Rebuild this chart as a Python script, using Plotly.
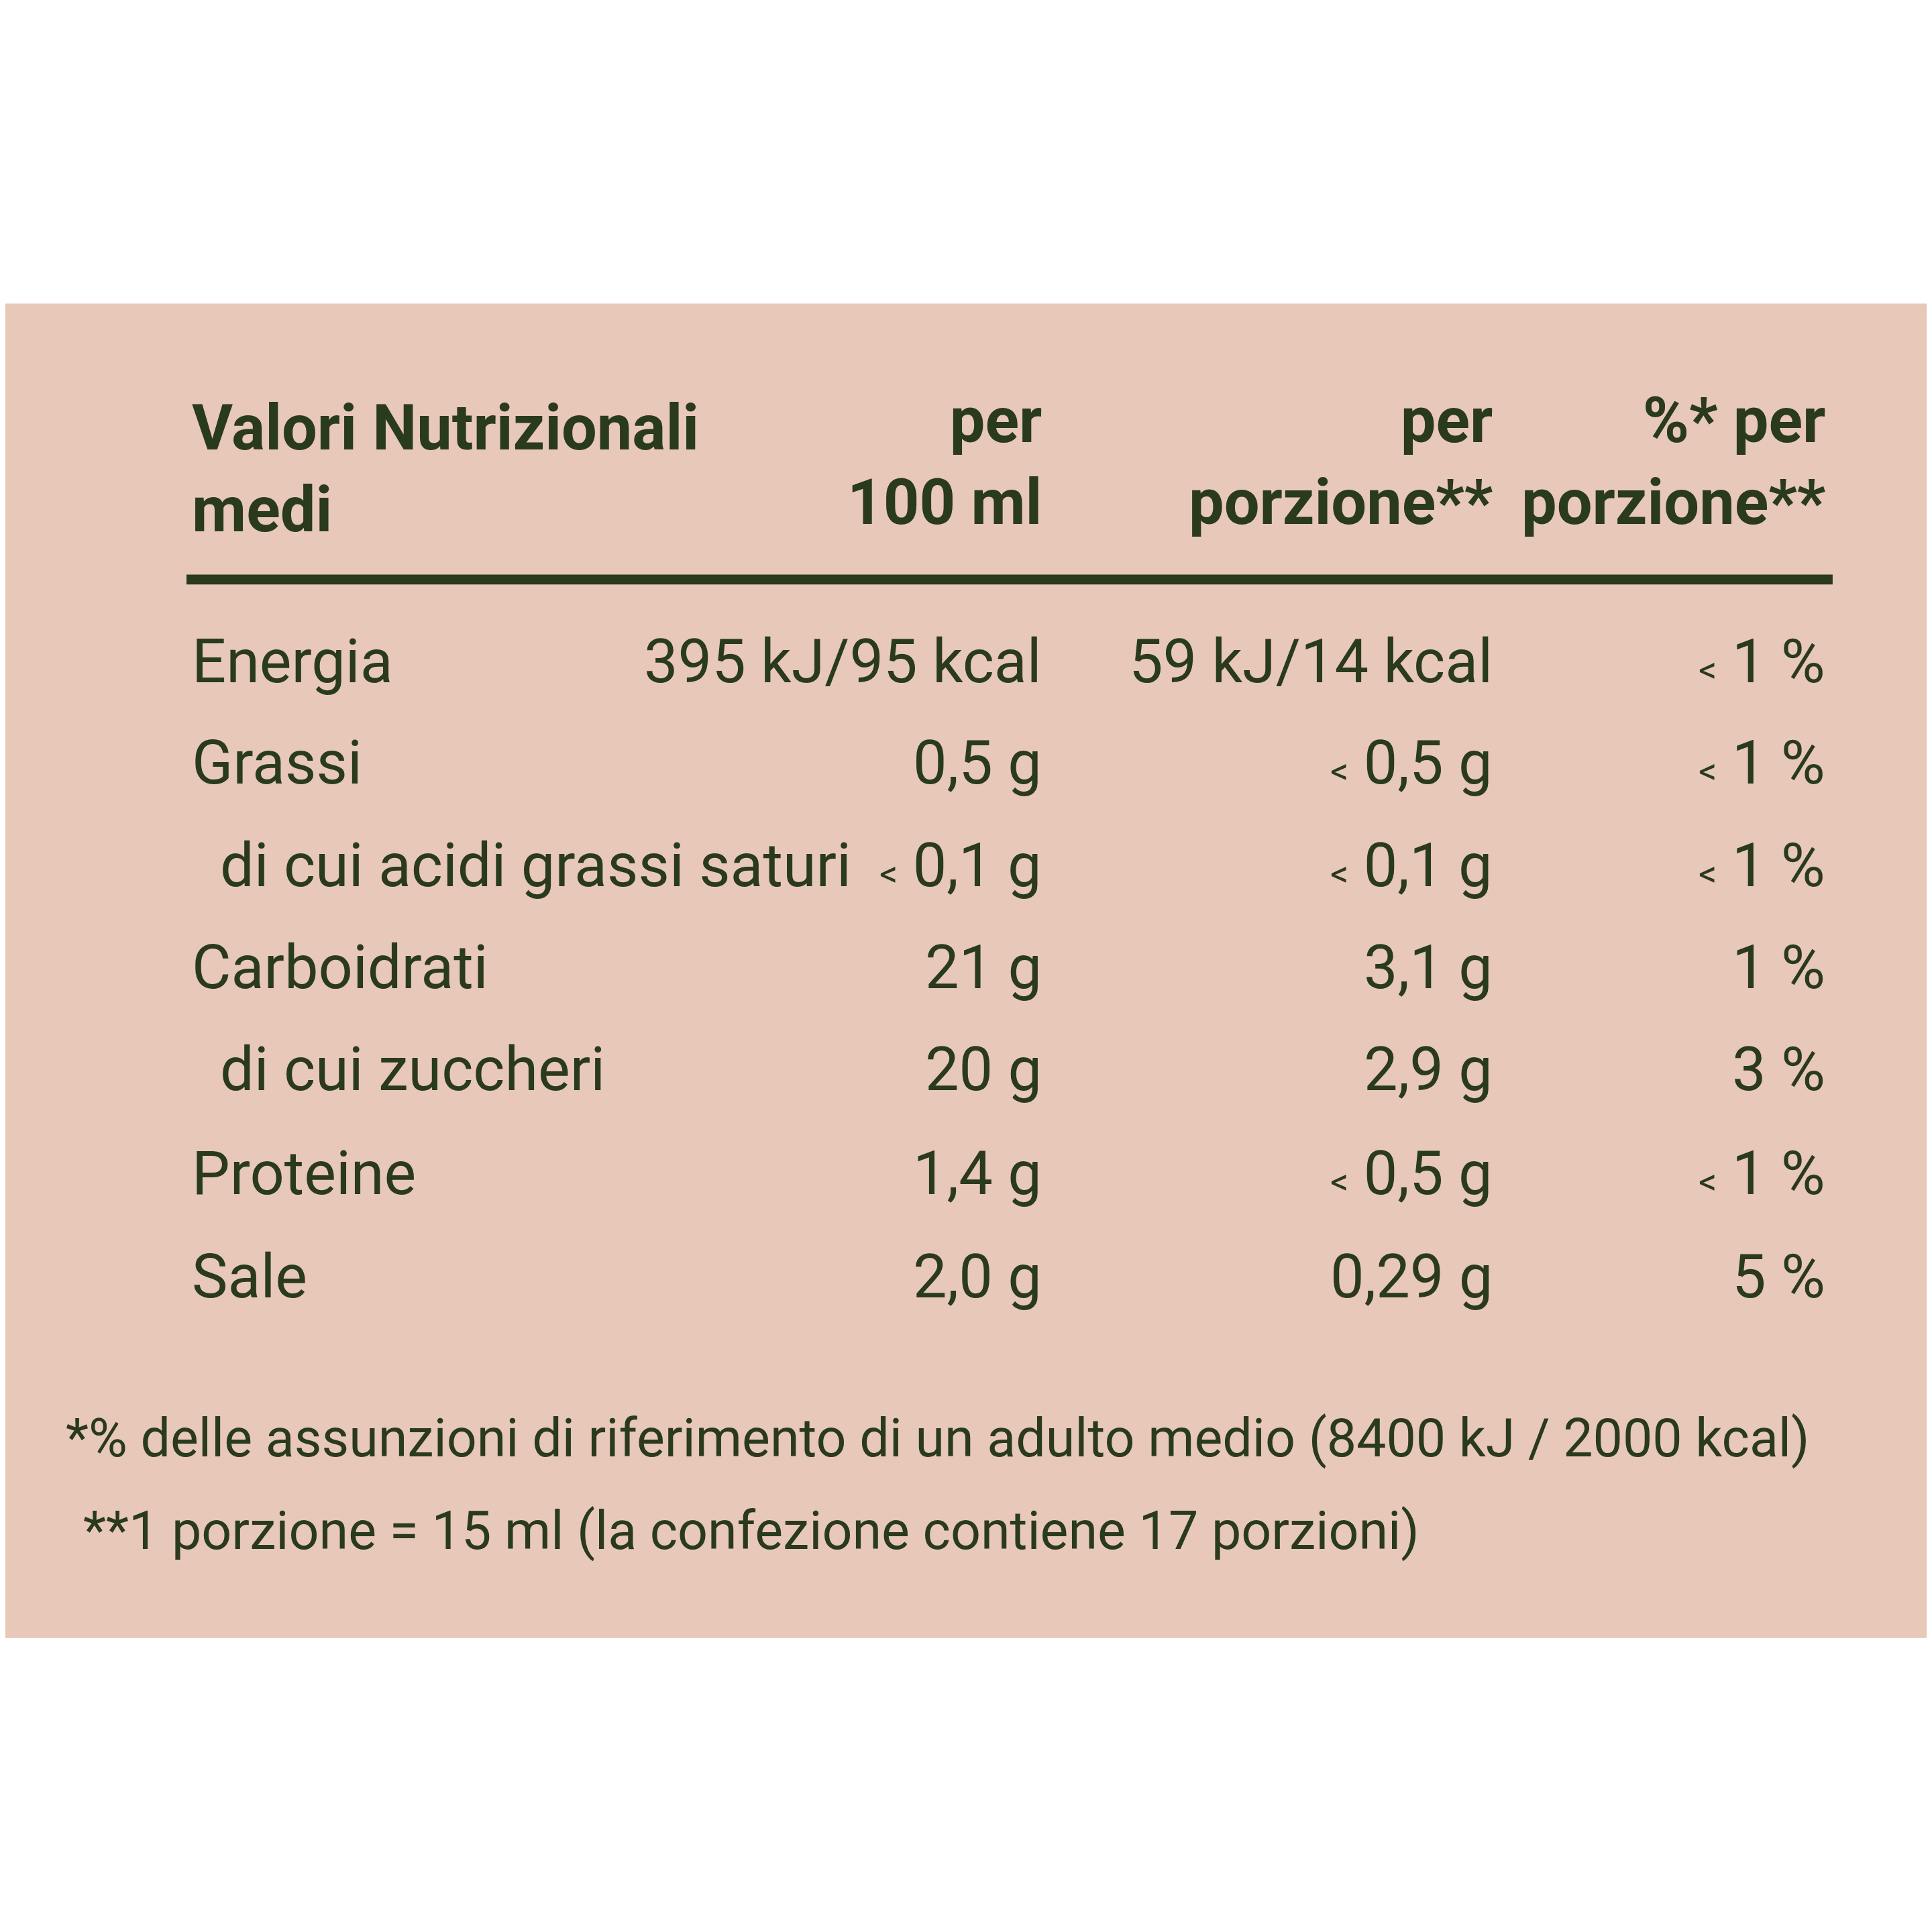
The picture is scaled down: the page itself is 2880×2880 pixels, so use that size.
import plotly.graph_objects as go

S = 2880 / 1568.0
nutrients = ["Energia", "Grassi", "di cui acidi grassi saturi", "Carboidrati", "di cui zuccheri", "Proteine", "Sale"]
indent = [False, False, True, False, True, False, False]
per100 = ["395 kJ/95 kcal", "0,5 g", "< 0,1 g", "21 g", "20 g", "1,4 g", "2,0 g"]
per_portion = ["59 kJ/14 kcal", "< 0,5 g", "< 0,1 g", "3,1 g", "2,9 g", "< 0,5 g", "0,29 g"]
pct_portion = ["< 1 %", "< 1 %", "< 1 %", "1 %", "3 %", "< 1 %", "5 %"]
headers = ["Valori Nutrizionali<br>medi", "per<br>100 ml", "per<br>porzione**", "%* per<br>porzione**"]
footnotes = ["*% delle assunzioni di riferimento di un adulto medio (8400 kJ / 2000 kcal)",
             "**1 porzione = 15 ml (la confezione contiene 17 porzioni)"]

GREEN = "#2a3a1c"
BG = "#e8c8b8"
FONT = "Roboto, sans-serif"
body = 49 * S
hdr = 51 * S
foot = 43 * S

def fmt(t):
    if t.startswith("< "):
        return "<span style='font-size:%dpx'>&lt;</span> %s" % (int(body * 0.6), t[2:])
    return t

ann = []
def add(x, y, text, anchor, size, bold=False):
    ann.append(dict(x=x * S, y=y * S, text=("<b>%s</b>" % text) if bold else text,
                    xanchor=anchor, yanchor="middle", showarrow=False, align=anchor,
                    font=dict(family=FONT, size=size, color=GREEN)))

add(150, 376, headers[0], "left", hdr, True)
add(842, 370, headers[1], "right", hdr, True)
add(1208, 370, headers[2], "right", hdr, True)
add(1478, 370, headers[3], "right", hdr, True)

ys = [533, 615, 698, 781, 864, 948, 1032]
for i, y in enumerate(ys):
    add(173 if indent[i] else 150, y, nutrients[i], "left", body)
    add(842, y, fmt(per100[i]), "right", body)
    add(1208, y, fmt(per_portion[i]), "right", body)
    add(1478, y, fmt(pct_portion[i]), "right", body)

add(48, 1163, footnotes[0], "left", foot)
add(62, 1238, footnotes[1], "left", foot)

shapes = [
    dict(type="rect", x0=-20, x1=2900, y0=242 * S, y1=1325 * S, fillcolor=BG, line=dict(width=0), layer="below"),
    dict(type="line", x0=147 * S, x1=1483 * S, y0=466 * S, y1=466 * S, line=dict(color=GREEN, width=8 * S)),
]

fig = go.Figure()
fig.update_layout(width=2880, height=2880, margin=dict(l=0, r=0, t=0, b=0),
                  paper_bgcolor="white", plot_bgcolor="white",
                  xaxis=dict(range=[0, 2880], visible=False, fixedrange=True),
                  yaxis=dict(range=[2880, 0], visible=False, fixedrange=True),
                  annotations=ann, shapes=shapes, showlegend=False)
fig.write_html("out.html")
